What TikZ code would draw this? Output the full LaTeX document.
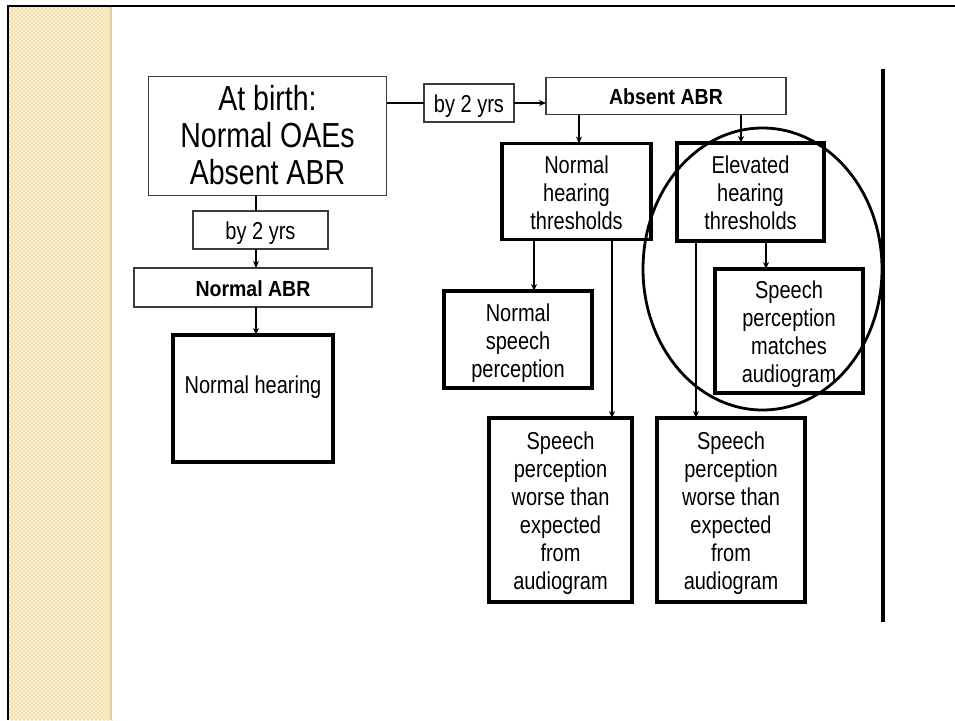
\documentclass[tikz,border=0pt]{standalone}
\usepackage{fontspec}
\setmainfont{Liberation Sans}
\usetikzlibrary{arrows.meta}
\definecolor{strip}{RGB}{242,224,178}
\definecolor{stripdot}{RGB}{249,236,200}
\definecolor{stripedge}{RGB}{220,204,160}
\definecolor{thinline}{RGB}{60,60,60}
% text lines set slightly taller than wide, centred, one per row
\newcommand{\tall}[2][1.22]{\raisebox{-4pt}[\height][\depth]{\scalebox{1}[#1]{\begin{tabular}{@{}c@{}}#2\end{tabular}}}}
\tikzset{
  thinbox/.style={draw=thinline, line width=1.3pt, fill=white, inner sep=0pt, outer sep=0pt, align=center},
  thickbox/.style={draw=black, line width=3.6pt, fill=white, inner sep=0pt, outer sep=0pt, align=center},
  txt/.style={font=\fontsize{20}{23}\selectfont},
  big/.style={font=\fontsize{28.5}{30.6}\selectfont},
  bold/.style={font=\fontsize{19.5}{22}\selectfont\bfseries},
  link/.style={line width=1.5pt, -{Stealth[length=7pt,width=6pt]}},
  plain/.style={line width=1.5pt},
}
\begin{document}
\begin{tikzpicture}[x=1pt,y=-1pt]
\useasboundingbox (0,0) rectangle (955,720);
% slide background and frame
\fill[white] (0,0) rectangle (955,720);
\fill[strip] (9,6) rectangle (112,720);
% woven texture of the side strip: light 2x2 squares in a checker
\foreach \yy in {6,10,...,718} {
  \fill[stripdot] \foreach \xx in {9,13,...,109} {(\xx,\yy) rectangle ++(2,2) ++(0,0) (\xx+2,\yy+2) rectangle ++(2,2)};
}
\fill[white] (112,6) rectangle (120,720);
\fill[stripedge] (109.5,6) rectangle (112,720);
\draw[line width=2.5pt] (8,720) -- (8,6) -- (955,6);
\draw[line width=4pt] (883,69) -- (883,622);

% boxes
\node[thinbox, big, minimum width=238, minimum height=119] (birth) at (267.5,136) {\tall{At birth:\\Normal OAEs\\Absent ABR}};
\node[thinbox, txt, minimum width=90, minimum height=38] (yrsA) at (469,103) {\tall{by 2 yrs}};
\node[thinbox, bold, minimum width=240, minimum height=37] (absent) at (666,96) {\tall[1.12]{Absent ABR}};
\node[thinbox, txt, minimum width=135, minimum height=38] (yrsB) at (260.5,230) {\tall{by 2 yrs}};
\node[thinbox, bold, minimum width=238, minimum height=39] (normabr) at (253,287.5) {\tall[1.12]{Normal ABR}};
\node[thickbox, txt, minimum width=160, minimum height=127] (normhear) at (253,398.5) {\raisebox{14.5pt}[\height][\depth]{\tall{Normal hearing}}};
\node[thickbox, txt, minimum width=149, minimum height=96] (nht) at (576.5,191.5) {\tall{Normal\\hearing\\thresholds}};
\node[thickbox, txt, minimum width=147, minimum height=98] (eht) at (750.5,192) {\tall{Elevated\\hearing\\thresholds}};
\node[thickbox, txt, minimum width=148, minimum height=97] (nsp) at (518,339.5) {\tall{Normal\\speech\\perception}};
\node[thickbox, txt, minimum width=148, minimum height=124] (spm) at (789,331) {\tall{Speech\\perception\\matches\\audiogram}};
\node[thickbox, txt, minimum width=143, minimum height=184] (worseA) at (560.5,510) {\tall{Speech\\perception\\worse than\\expected\\from\\audiogram}};
\node[thickbox, txt, minimum width=148, minimum height=184] (worseB) at (731,510) {\tall{Speech\\perception\\worse than\\expected\\from\\audiogram}};

% connectors
\draw[line width=2.5pt] (birth.east |- yrsA.west) -- (yrsA.west);
\draw[link] (yrsA.east) -- (yrsA.east -| absent.west);
\draw[plain] (birth.south -| yrsB.north) ++(-4.5,0) coordinate (bb) -- (bb |- yrsB.north);
\draw[link] (bb |- yrsB.south) -- (bb |- normabr.north);
\draw[link] (bb |- normabr.south) -- (bb |- normhear.north);
\coordinate (nx) at (579,0);
\draw[link] (nx |- absent.south) -- (nx |- nht.north);
\coordinate (ex) at (741,0);
\draw[link] (ex |- absent.south) -- (ex |- eht.north);
\coordinate (n1) at (534,0);
\draw[link] (n1 |- nht.south) -- (n1 |- nsp.north);
\coordinate (n2) at (612,0);
\draw[link] (n2 |- nht.south) -- (n2 |- worseA.north);
\coordinate (e1) at (696,0);
\draw[link] (e1 |- eht.south) -- (e1 |- worseB.north);
\coordinate (e2) at (766,0);
\draw[link] (e2 |- eht.south) -- (e2 |- spm.north);

% highlight ring
\draw[line width=2.8pt] (762.5,269) ellipse [x radius=119.5, y radius=141];
\end{tikzpicture}
\end{document}
